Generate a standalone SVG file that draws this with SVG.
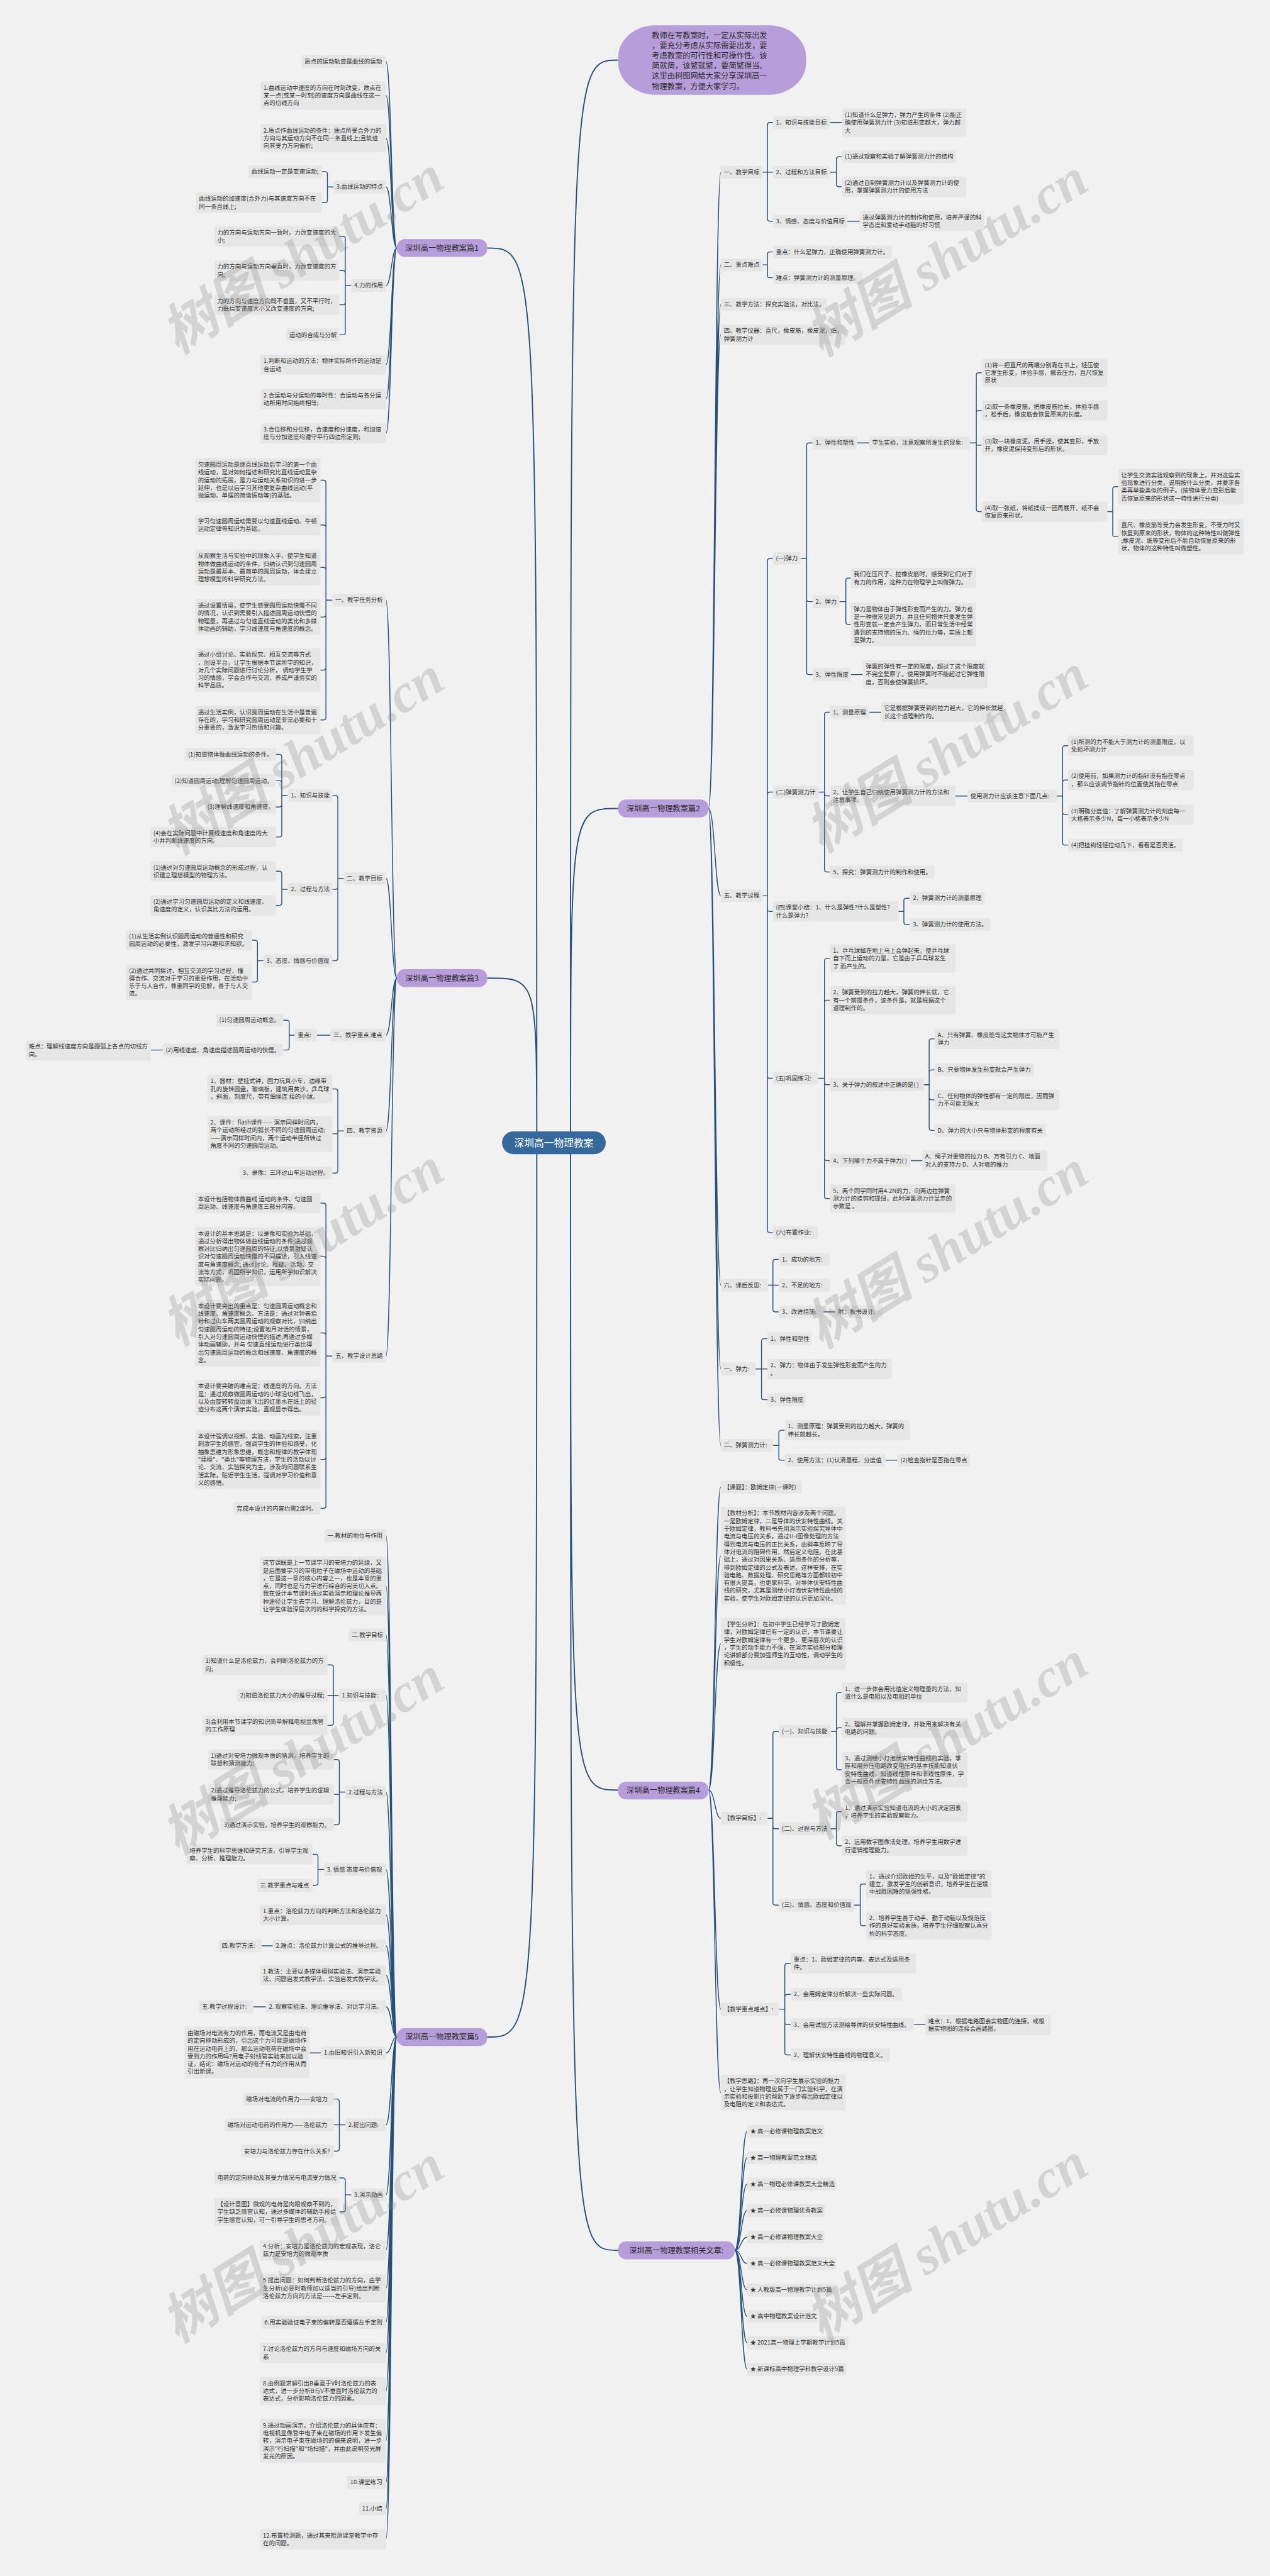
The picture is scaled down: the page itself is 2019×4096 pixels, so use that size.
<svg xmlns="http://www.w3.org/2000/svg" width="2019" height="4096" viewBox="0 0 2019 4096">
<style>
.n rect{fill:#e6e6e6}
text{font-family:"Noto Sans CJK SC","Noto Sans",sans-serif;font-size:12px;fill:#333}
.p rect{fill:#b89ddb}
.p text{font-size:15.5px;text-anchor:middle;fill:#2b2b2b}
.c path{fill:none;stroke:#24507a;stroke-width:1.8}
.c .m{stroke-width:2.4}
.wm{font-family:"Liberation Serif","Noto Sans CJK SC",serif;font-style:italic;font-weight:bold;font-size:110px;fill:#808080;fill-opacity:.27;text-anchor:middle}
</style>
<rect width="2019" height="4096" fill="#f1f1f1"/>
<g transform="scale(0.78867)">
<g id="connectors" class="c">
<path class="m" d="M1150 2304C1150 121 1150 121 1246 121M1150 2304C1150 1630 1150 1630 1246 1630M1150 2304C1150 3609 1150 3609 1246 3609M1150 2304C1150 4537 1150 4537 1246 4537M1082 2304C1082 500 1082 500 982 500M1082 2304C1082 1972 1082 1972 982 1972M1082 2304C1082 4107 1082 4107 982 4107"/>
<path d="M800 500C789 500 789 124 778 124M800 500C789 500 789 192.5 778 192.5M800 500C789 500 789 278.5 778 278.5M800 500C789 500 789 377 778 377M800 500C789 500 789 576 778 576M800 500C789 500 789 735.5 778 735.5M800 500C789 500 789 804.5 778 804.5M800 500C789 500 789 873.5 778 873.5"/>
<path d="M800 1972C789 1972 789 1210 778 1210M800 1972C789 1972 789 1771 778 1771M800 1972C789 1972 789 2087 778 2087M800 1972C789 1972 789 2280 778 2280M800 1972C789 1972 789 2734 778 2734"/>
<path d="M800 4107C789 4107 789 3096 778 3096M800 4107C789 4107 789 3197.5 778 3197.5M800 4107C789 4107 789 3296 778 3296M800 4107C789 4107 789 3418 778 3418M800 4107C789 4107 789 3613 778 3613M800 4107C789 4107 789 3769 778 3769M800 4107C789 4107 789 3860.5 778 3860.5M800 4107C789 4107 789 3923 778 3923M800 4107C789 4107 789 3982.5 778 3982.5M800 4107C789 4107 789 4046 778 4046M800 4107C789 4107 789 4139 778 4139M800 4107C789 4107 789 4284 778 4284M800 4107C789 4107 789 4425 778 4425M800 4107C789 4107 789 4536.5 778 4536.5M800 4107C789 4107 789 4613.5 778 4613.5M800 4107C789 4107 789 4682 778 4682M800 4107C789 4107 789 4743.5 778 4743.5M800 4107C789 4107 789 4820.5 778 4820.5M800 4107C789 4107 789 4921 778 4921M800 4107C789 4107 789 5005 778 5005M800 4107C789 4107 789 5058 778 5058M800 4107C789 4107 789 5119.5 778 5119.5"/>
<path d="M1428 1630C1441 1630 1441 347 1453 347M1428 1630C1441 1630 1441 534 1453 534M1428 1630C1441 1630 1441 614 1453 614M1428 1630C1441 1630 1441 674.5 1453 674.5M1428 1630C1441 1630 1441 1806 1453 1806M1428 1630C1441 1630 1441 2591 1453 2591M1428 1630C1441 1630 1441 2760 1453 2760M1428 1630C1441 1630 1441 2914 1453 2914"/>
<path d="M1428 3609C1441 3609 1441 2998 1453 2998M1428 3609C1441 3609 1441 3136.5 1453 3136.5M1428 3609C1441 3609 1441 3314 1453 3314M1428 3609C1441 3609 1441 3666 1453 3666M1428 3609C1441 3609 1441 4051 1453 4051M1428 3609C1441 3609 1441 4219 1453 4219"/>
<path d="M1481 4537C1494 4537 1494 4297 1506 4297M1481 4537C1494 4537 1494 4350.3 1506 4350.3M1481 4537C1494 4537 1494 4403.6 1506 4403.6M1481 4537C1494 4537 1494 4456.9 1506 4456.9M1481 4537C1494 4537 1494 4510.2 1506 4510.2M1481 4537C1494 4537 1494 4563.5 1506 4563.5M1481 4537C1494 4537 1494 4616.8 1506 4616.8M1481 4537C1494 4537 1494 4670.1 1506 4670.1M1481 4537C1494 4537 1494 4723.4 1506 4723.4M1481 4537C1494 4537 1494 4776.7 1506 4776.7"/>
<path d="M672 377H660V351Q660 346 655 346H649M672 377H660V403.5Q660 408.5 655 408.5H649"/>
<path d="M708 576H696V481.5Q696 476.5 691 476.5H684M708 576H696V550.5Q696 545.5 691 545.5H684M708 576H696V609.5Q696 614.5 691 614.5H684M708 576H696V670Q696 675 691 675H684"/>
<path d="M670 1210H657V973Q657 968 652 968H646M670 1210H657V1063.5Q657 1058.5 652 1058.5H646M670 1210H657V1149Q657 1144 652 1144H646M670 1210H657V1239Q657 1244 652 1244H646M670 1210H657V1346Q657 1351 652 1351H646M670 1210H657V1446.5Q657 1451.5 652 1451.5H646"/>
<path d="M693 1771H681V1609Q681 1604 676 1604H670M693 1771H681V1788Q681 1793 676 1793H670M693 1771H681V1932Q681 1937 676 1937H670"/>
<path d="M580 1604H568V1526Q568 1521 563 1521H556M580 1604H568V1579Q568 1574 563 1574H556M580 1604H568V1622Q568 1627 563 1627H556M580 1604H568V1682.5Q568 1687.5 563 1687.5H556"/>
<path d="M580 1793H568V1761.5Q568 1756.5 563 1756.5H556M580 1793H568V1820.5Q568 1825.5 563 1825.5H556"/>
<path d="M531 1937H519V1900.5Q519 1895.5 514 1895.5H508M531 1937H519V1975Q519 1980 514 1980H508"/>
<path d="M666 2087H639M594 2087H583V2062Q583 2057 578 2057H571M594 2087H583V2112Q583 2117 578 2117H571M328 2117H304"/>
<path d="M693 2280H681V2200.5Q681 2195.5 676 2195.5H670M693 2280H681V2286H670M693 2280H681V2360Q681 2365 676 2365H670"/>
<path d="M670 2734H657V2430.5Q657 2425.5 652 2425.5H646M670 2734H657V2538.5Q657 2533.5 652 2533.5H646M670 2734H657V2692.5Q657 2687.5 652 2687.5H646M670 2734H657V2813Q657 2818 652 2818H646M670 2734H657V2937.5Q657 2942.5 652 2942.5H646M670 2734H657V3036Q657 3041 652 3041H646"/>
<path d="M683 3418H672V3361.5Q672 3356.5 667 3356.5H660M683 3418H660M683 3418H672V3473.5Q672 3478.5 667 3478.5H660"/>
<path d="M696 3613H684V3552.5Q684 3547.5 679 3547.5H673M696 3613H684V3617.5H673M696 3613H684V3674Q684 3679 679 3679H673"/>
<path d="M653 3769H641V3743.5Q641 3738.5 636 3738.5H630M653 3769H641V3796Q641 3801 636 3801H630"/>
<path d="M550 3923H527M536 4046H511M647 4139H624"/>
<path d="M696 4284H684V4237Q684 4232 679 4232H673M696 4284H673M696 4284H684V4332Q684 4337 679 4337H673"/>
<path d="M708 4425H696V4396Q696 4391 691 4391H684M708 4425H696V4454.5Q696 4459.5 691 4459.5H684"/>
<path d="M1537 347H1547V252Q1547 247 1552 247H1558M1537 347H1558M1537 347H1547V441Q1547 446 1552 446H1558M1673 247H1697M1673 347H1686V321Q1686 316 1691 316H1697M1673 347H1686V371.5Q1686 376.5 1691 376.5H1697M1708 446H1733"/>
<path d="M1537 534H1547V513Q1547 508 1552 508H1558M1537 534H1547V555Q1547 560 1552 560H1558"/>
<path d="M1537 1806H1547V1131Q1547 1126 1552 1126H1558M1537 1806H1547V1602Q1547 1597 1552 1597H1558M1537 1806H1547V1832.5Q1547 1837.5 1552 1837.5H1558M1537 1806H1547V2169Q1547 2174 1552 2174H1558M1537 1806H1547V2480Q1547 2485 1552 2485H1558"/>
<path d="M1614 1126H1626V898Q1626 893 1631 893H1638M1614 1126H1626V1208Q1626 1213 1631 1213H1638M1614 1126H1626V1355Q1626 1360 1631 1360H1638M1728 893H1752"/>
<path d="M1955 893H1968V756.5Q1968 751.5 1973 751.5H1979M1955 893H1968V832.5Q1968 827.5 1973 827.5H1979M1955 893H1968V897.5H1979M1955 893H1968V1026.5Q1968 1031.5 1973 1031.5H1979"/>
<path d="M2232 1031.5H2243V986Q2243 981 2248 981H2254M2232 1031.5H2243V1077Q2243 1082 2248 1082H2254"/>
<path d="M1692 1213H1705V1170.5Q1705 1165.5 1710 1165.5H1715M1692 1213H1705V1254Q1705 1259 1710 1259H1715M1715 1360H1739"/>
<path d="M1651 1597H1662V1441Q1662 1436 1667 1436H1673M1651 1597H1662V1599.5Q1662 1604.5 1667 1604.5H1673M1651 1597H1662V1753Q1662 1758 1667 1758H1673M1752 1436H1776M1926 1605H1950"/>
<path d="M2130 1605H2142V1508.5Q2142 1503.5 2147 1503.5H2153M2130 1605H2142V1577.5Q2142 1572.5 2147 1572.5H2153M2130 1605H2142V1637.5Q2142 1642.5 2147 1642.5H2153M2130 1605H2142V1699Q2142 1704 2147 1704H2153"/>
<path d="M1811 1837.5H1822V1816Q1822 1811 1827 1811H1834M1811 1837.5H1822V1859Q1822 1864 1827 1864H1834"/>
<path d="M1649 2174H1662V1937.5Q1662 1932.5 1667 1932.5H1673M1649 2174H1662V2021.5Q1662 2016.5 1667 2016.5H1673M1649 2174H1662V2182Q1662 2187 1667 2187H1673M1649 2174H1662V2335Q1662 2340 1667 2340H1673M1649 2174H1662V2411.5Q1662 2416.5 1667 2416.5H1673"/>
<path d="M1862 2187H1873V2099.5Q1873 2094.5 1878 2094.5H1884M1862 2187H1873V2162Q1873 2157 1878 2157H1884M1862 2187H1873V2212.5Q1873 2217.5 1878 2217.5H1884M1862 2187H1873V2274Q1873 2279 1878 2279H1884M1836 2340H1859"/>
<path d="M1548 2591H1558V2544Q1558 2539 1563 2539H1570M1548 2591H1570M1548 2591H1558V2640Q1558 2645 1563 2645H1570M1660 2645H1683"/>
<path d="M1523 2760H1535V2704Q1535 2699 1540 2699H1547M1523 2760H1547M1523 2760H1535V2817Q1535 2822 1540 2822H1547"/>
<path d="M1558 2914H1570V2888.5Q1570 2883.5 1575 2883.5H1582M1558 2914H1570V2939Q1570 2944 1575 2944H1582M1785 2944H1809"/>
<path d="M1547 3666H1558V3496Q1558 3491 1563 3491H1570M1547 3666H1558V3682Q1558 3687 1563 3687H1570M1547 3666H1558V3836Q1558 3841 1563 3841H1570"/>
<path d="M1675 3491H1686V3417.5Q1686 3412.5 1691 3412.5H1697M1675 3491H1686V3488.5Q1686 3483.5 1691 3483.5H1697M1675 3491H1686V3563Q1686 3568 1691 3568H1697"/>
<path d="M1675 3687H1686V3657.5Q1686 3652.5 1691 3652.5H1697M1675 3687H1686V3716.5Q1686 3721.5 1691 3721.5H1697"/>
<path d="M1721 3841H1734V3803.5Q1734 3798.5 1739 3798.5H1746M1721 3841H1734V3877.5Q1734 3882.5 1739 3882.5H1746"/>
<path d="M1570 4051H1582V3963.5Q1582 3958.5 1587 3958.5H1594M1570 4051H1582V4026Q1582 4021 1587 4021H1594M1570 4051H1582V4077Q1582 4082 1587 4082H1594M1570 4051H1582V4138Q1582 4143 1587 4143H1594M1842 4082H1865"/>
</g>

<g id="center"><rect x="1012" y="2281" width="209" height="46" rx="23" fill="#36699b"/><text x="1116.5" y="2311" style="font-size:20px;fill:#fff;text-anchor:middle">深圳高一物理教案</text></g>
<g id="intro"><rect x="1246" y="51" width="379" height="140" rx="75" ry="65" fill="#b89ddb"/><text x="1314" y="77" style="font-size:15.5px;fill:#2b2b2b">教师在写教案时，一定从实际出发<tspan x="1314" dy="20.5">，要充分考虑从实际需要出发，要</tspan><tspan x="1314" dy="20.5">考虑教案的可行性和可操作性。该</tspan><tspan x="1314" dy="20.5">简就简，该繁就繁，要简繁得当。</tspan><tspan x="1314" dy="20.5">这里由树图网给大家分享深圳高一</tspan><tspan x="1314" dy="20.5">物理教案，方便大家学习。</tspan></text></g>

<g id="pian1" class="p"><rect x="800" y="482" width="182" height="36" rx="16"/><text x="891" y="505.5">深圳高一物理教案篇1</text></g>
<g id="pian2" class="p"><rect x="1246" y="1612" width="182" height="36" rx="16"/><text x="1337" y="1635.5">深圳高一物理教案篇2</text></g>
<g id="pian3" class="p"><rect x="800" y="1954" width="182" height="36" rx="16"/><text x="891" y="1977.5">深圳高一物理教案篇3</text></g>
<g id="pian4" class="p"><rect x="1246" y="3592" width="182" height="36" rx="16"/><text x="1337" y="3615.5">深圳高一物理教案篇4</text></g>
<g id="pian5" class="p"><rect x="800" y="4089" width="182" height="36" rx="16"/><text x="891" y="4112.5">深圳高一物理教案篇5</text></g>
<g id="related" class="p"><rect x="1246" y="4519" width="235" height="36" rx="16"/><text x="1363.5" y="4542.5">深圳高一物理教案相关文章:</text></g>

<g id="a1" class="n"><rect x="608" y="111" width="170" height="26" rx="4"/><text x="614" y="128">质点的运动轨迹是曲线的运动</text></g>
<g id="a2" class="n"><rect x="525" y="164" width="253" height="57" rx="4"/><text x="531" y="181">1.曲线运动中速度的方向在时刻改变，质点在<tspan x="531" dy="15.6">某一点(或某一时刻)的速度方向是曲线在这一</tspan><tspan x="531" dy="15.6">点的切线方向</tspan></text></g>
<g id="a3" class="n"><rect x="525" y="250" width="253" height="57" rx="4"/><text x="531" y="267">2.质点作曲线运动的条件：质点所受合外力的<tspan x="531" dy="15.6">方向与其运动方向不在同一条直线上;且轨迹</tspan><tspan x="531" dy="15.6">向其受力方向偏折;</tspan></text></g>
<g id="a4" class="n"><rect x="672" y="364" width="106" height="26" rx="4"/><text x="678" y="381">3.曲线运动的特点</text></g>
<g id="a4a" class="n"><rect x="501" y="333" width="148" height="26" rx="4"/><text x="507" y="350">曲线运动一定是变速运动;</text></g>
<g id="a4b" class="n"><rect x="395" y="388" width="254" height="41" rx="4"/><text x="401" y="405">曲线运动的加速度(合外力)与其速度方向不在<tspan x="401" dy="15.6">同一条直线上;</tspan></text></g>
<g id="a5" class="n"><rect x="708" y="563" width="70" height="26" rx="4"/><text x="714" y="580">4.力的作用</text></g>
<g id="a5a" class="n"><rect x="432" y="456" width="252" height="41" rx="4"/><text x="438" y="473">力的方向与运动方向一致时，力改变速度的大<tspan x="438" dy="15.6">小;</tspan></text></g>
<g id="a5b" class="n"><rect x="432" y="525" width="252" height="41" rx="4"/><text x="438" y="542">力的方向与运动方向垂直时，力改变速度的方<tspan x="438" dy="15.6">向;</tspan></text></g>
<g id="a5c" class="n"><rect x="432" y="594" width="252" height="41" rx="4"/><text x="438" y="611">力的方向与速度方向既不垂直，又不平行时，<tspan x="438" dy="15.6">力既搞变速度大小又改变速度的方向;</tspan></text></g>
<g id="a5d" class="n"><rect x="577" y="662" width="107" height="26" rx="4"/><text x="583" y="679">运动的合成与分解</text></g>
<g id="a6" class="n"><rect x="525" y="715" width="253" height="41" rx="4"/><text x="531" y="732">1.判断和运动的方法：物体实际所作的运动是<tspan x="531" dy="15.6">合运动</tspan></text></g>
<g id="a7" class="n"><rect x="525" y="784" width="253" height="41" rx="4"/><text x="531" y="801">2.合运动与分运动的等时性：合运动与各分运<tspan x="531" dy="15.6">动所用时间始终相等;</tspan></text></g>
<g id="a8" class="n"><rect x="525" y="853" width="253" height="41" rx="4"/><text x="531" y="870">3.合位移和分位移，合速度和分速度，和加速<tspan x="531" dy="15.6">度与分加速度均遵守平行四边形定则;</tspan></text></g>

<g id="b1" class="n"><rect x="670" y="1197" width="108" height="26" rx="4"/><text x="676" y="1214">一、教学任务分析</text></g>
<g id="b1a" class="n"><rect x="393" y="924" width="253" height="88" rx="4"/><text x="399" y="941">匀速圆周运动是继直线运动后学习的第一个曲<tspan x="399" dy="15.6">线运动，是对如何描述和研究比直线运动复杂</tspan><tspan x="399" dy="15.6">的运动的拓展，是力与运动关系知识的进一步</tspan><tspan x="399" dy="15.6">延伸，也是以后学习其他更复杂曲线运动(平</tspan><tspan x="399" dy="15.6">抛运动、单摆的简谐振动等)的基础。</tspan></text></g>
<g id="b1b" class="n"><rect x="393" y="1038" width="253" height="41" rx="4"/><text x="399" y="1055">学习匀速圆周运动需要以匀速直线运动、牛顿<tspan x="399" dy="15.6">运动定律等知识为基础。</tspan></text></g>
<g id="b1c" class="n"><rect x="393" y="1108" width="253" height="72" rx="4"/><text x="399" y="1125">从观察生活与实验中的现象入手，使学生知道<tspan x="399" dy="15.6">物体做曲线运动的条件，归纳认识到匀速圆周</tspan><tspan x="399" dy="15.6">运动是最基本、最简单的圆周运动，体会建立</tspan><tspan x="399" dy="15.6">理想模型的科学研究方法。</tspan></text></g>
<g id="b1d" class="n"><rect x="393" y="1208" width="253" height="72" rx="4"/><text x="399" y="1225">通过设置情境，使学生感受圆周运动快慢不同<tspan x="399" dy="15.6">的情况，认识到需要引入描述圆周运动快慢的</tspan><tspan x="399" dy="15.6">物理量，再通过与匀速直线运动的类比和多媒</tspan><tspan x="399" dy="15.6">体动画的辅助，学习线速度与角速度的概念。</tspan></text></g>
<g id="b1e" class="n"><rect x="393" y="1307" width="253" height="88" rx="4"/><text x="399" y="1324">通过小组讨论、实验探究、相互交流等方式<tspan x="399" dy="15.6">，创设平台，让学生根据本节课所学的知识，</tspan><tspan x="399" dy="15.6">对几个实际问题进行讨论分析， 调动学生学</tspan><tspan x="399" dy="15.6">习的情感，学会合作与交流，养成严谨务实的</tspan><tspan x="399" dy="15.6">科学品质。</tspan></text></g>
<g id="b1f" class="n"><rect x="393" y="1423" width="253" height="57" rx="4"/><text x="399" y="1440">通过生活实例，认识圆周运动在生活中是普遍<tspan x="399" dy="15.6">存在的，学习和研究圆周运动是非常必要和十</tspan><tspan x="399" dy="15.6">分重要的，激发学习热情和兴趣。</tspan></text></g>
<g id="b2" class="n"><rect x="693" y="1758" width="85" height="26" rx="4"/><text x="699" y="1775">二、教学目标</text></g>
<g id="b2a" class="n"><rect x="580" y="1591" width="90" height="26" rx="4"/><text x="586" y="1608">1、知识与技能</text></g>
<g id="b2a1" class="n"><rect x="373" y="1508" width="183" height="26" rx="4"/><text x="379" y="1525">(1)知道物体做曲线运动的条件。</text></g>
<g id="b2a2" class="n"><rect x="346" y="1561" width="210" height="26" rx="4"/><text x="352" y="1578">(2)知道圆周运动;理解匀速圆周运动。</text></g>
<g id="b2a3" class="n"><rect x="412" y="1614" width="144" height="26" rx="4"/><text x="418" y="1631">(3)理解线速度和角速度。</text></g>
<g id="b2a4" class="n"><rect x="303" y="1667" width="253" height="41" rx="4"/><text x="309" y="1684">(4)会在实际问题中计算线速度和角速度的大<tspan x="309" dy="15.6">小并判断线速度的方向。</tspan></text></g>
<g id="b2b" class="n"><rect x="580" y="1780" width="90" height="26" rx="4"/><text x="586" y="1797">2、过程与方法</text></g>
<g id="b2b1" class="n"><rect x="303" y="1736" width="253" height="41" rx="4"/><text x="309" y="1753">(1)通过对匀速圆周运动概念的形成过程，认<tspan x="309" dy="15.6">识建立理想模型的物理方法。</tspan></text></g>
<g id="b2b2" class="n"><rect x="303" y="1805" width="253" height="41" rx="4"/><text x="309" y="1822">(2)通过学习匀速圆周运动的定义和线速度、<tspan x="309" dy="15.6">角速度的定义，认识类比方法的运用。</tspan></text></g>
<g id="b2c" class="n"><rect x="531" y="1924" width="139" height="26" rx="4"/><text x="537" y="1941">3、态度、情感与价值观</text></g>
<g id="b2c1" class="n"><rect x="254" y="1875" width="254" height="41" rx="4"/><text x="260" y="1892">(1)从生活实例认识圆周运动的普遍性和研究<tspan x="260" dy="15.6">圆周运动的必要性，激发学习兴趣和求知欲。</tspan></text></g>
<g id="b2c2" class="n"><rect x="254" y="1944" width="254" height="72" rx="4"/><text x="260" y="1961">(2)通过共同探讨、相互交流的学习过程，懂<tspan x="260" dy="15.6">得合作、交流对于学习的重要作用，在活动中</tspan><tspan x="260" dy="15.6">乐于与人合作，尊重同学的见解，善于与人交</tspan><tspan x="260" dy="15.6">流。</tspan></text></g>
<g id="b3" class="n"><rect x="666" y="2074" width="112" height="26" rx="4"/><text x="672" y="2091">三、教学重点 难点</text></g>
<g id="b3z" class="n"><rect x="594" y="2074" width="45" height="26" rx="4"/><text x="600" y="2091">重点:</text></g>
<g id="b3a" class="n"><rect x="436" y="2044" width="135" height="26" rx="4"/><text x="442" y="2061">(1)匀速圆周运动概念。</text></g>
<g id="b3b" class="n"><rect x="328" y="2104" width="243" height="26" rx="4"/><text x="334" y="2121">(2)用线速度、角速度描述圆周运动的快慢。</text></g>
<g id="b3c" class="n"><rect x="52" y="2097" width="252" height="41" rx="4"/><text x="58" y="2114">难点：理解线速度方向是圆弧上各点的切线方<tspan x="58" dy="15.6">向。</tspan></text></g>
<g id="b4" class="n"><rect x="693" y="2267" width="85" height="26" rx="4"/><text x="699" y="2284">四、教学资源</text></g>
<g id="b4a" class="n"><rect x="418" y="2167" width="252" height="57" rx="4"/><text x="424" y="2184">1、器材：壁挂式钟，回力玩具小车，边缘带<tspan x="424" dy="15.6">孔的旋转圆盘，玻璃板，建筑用黄沙，乒乓球</tspan><tspan x="424" dy="15.6">，斜面，刻度尺，带有细绳连 接的小球。</tspan></text></g>
<g id="b4b" class="n"><rect x="418" y="2250" width="252" height="72" rx="4"/><text x="424" y="2267">2、课件：flash课件—— 演示同样时间内，<tspan x="424" dy="15.6">两个运动所经过的弧长不同的匀速圆周运动;</tspan><tspan x="424" dy="15.6">——演示同样时间内，两个运动半径所转过</tspan><tspan x="424" dy="15.6">角度不同的匀速圆周运动。</tspan></text></g>
<g id="b4c" class="n"><rect x="483" y="2352" width="187" height="26" rx="4"/><text x="489" y="2369">3、录像：三环过山车运动过程。</text></g>
<g id="b5" class="n"><rect x="670" y="2721" width="108" height="26" rx="4"/><text x="676" y="2738">五、教学设计思路</text></g>
<g id="b5a" class="n"><rect x="393" y="2405" width="253" height="41" rx="4"/><text x="399" y="2422">本设计包括物体做曲线 运动的条件、匀速圆<tspan x="399" dy="15.6">周运动、线速度与角速度三部分内容。</tspan></text></g>
<g id="b5b" class="n"><rect x="393" y="2474" width="253" height="119" rx="4"/><text x="399" y="2491">本设计的基本思路是：以录像和实验为基础，<tspan x="399" dy="15.6">通过分析得出物体做曲线运动的条件;通过观</tspan><tspan x="399" dy="15.6">察对比归纳出匀速圆周的特征;以情景激疑认</tspan><tspan x="399" dy="15.6">识对匀速圆周运动快慢的不同描述，引入线速</tspan><tspan x="399" dy="15.6">度与角速度概念; 通过讨论、释疑、活动、交</tspan><tspan x="399" dy="15.6">流等方式，巩固所学知识，运用所学知识解决</tspan><tspan x="399" dy="15.6">实际问题。</tspan></text></g>
<g id="b5c" class="n"><rect x="393" y="2620" width="253" height="135" rx="4"/><text x="399" y="2637">本设计要突出的重点是：匀速圆周运动概念和<tspan x="399" dy="15.6">线速度、角速度概念。方法是：通过对钟表指</tspan><tspan x="399" dy="15.6">针和过山车两类圆周运动的观察对比，归纳出</tspan><tspan x="399" dy="15.6">匀速圆周运动的特征;设置地月对话的情景，</tspan><tspan x="399" dy="15.6">引入对匀速圆周运动快慢的描述;再通过多媒</tspan><tspan x="399" dy="15.6">体动画辅助，并与 匀速直线运动进行类比得</tspan><tspan x="399" dy="15.6">出匀速圆周运动的概念和线速度、角速度的概</tspan><tspan x="399" dy="15.6">念。</tspan></text></g>
<g id="b5d" class="n"><rect x="393" y="2782" width="253" height="72" rx="4"/><text x="399" y="2799">本设计要突破的难点是：线速度的方向。方法<tspan x="399" dy="15.6">是：通过观察做圆周运动的小球沿切线飞出，</tspan><tspan x="399" dy="15.6">以及由旋转转盘边缘飞出的红墨水在纸上的径</tspan><tspan x="399" dy="15.6">迹分布这两个演示实验，直观显示得出。</tspan></text></g>
<g id="b5e" class="n"><rect x="393" y="2883" width="253" height="119" rx="4"/><text x="399" y="2900">本设计强调以视频、实验、动画为线索，注重<tspan x="399" dy="15.6">刺激学生的感官，强调学生的体验和感受，化</tspan><tspan x="399" dy="15.6">抽象思维为形象思维，概念和规律的教学体现</tspan><tspan x="399" dy="15.6">&quot;建模&quot;、&quot;类比&quot;等物理方法，学生的活动以讨</tspan><tspan x="399" dy="15.6">论、交流、实验探究为主，涉及的问题联系生</tspan><tspan x="399" dy="15.6">活实际，贴近学生生活，强调对学习价值和意</tspan><tspan x="399" dy="15.6">义的感悟。</tspan></text></g>
<g id="b5f" class="n"><rect x="471" y="3028" width="175" height="26" rx="4"/><text x="477" y="3045">完成本设计的内容约需2课时。</text></g>

<g id="c1" class="n"><rect x="654" y="3083" width="124" height="26" rx="4"/><text x="660" y="3100">一.教材的地位与作用</text></g>
<g id="c2" class="n"><rect x="524" y="3138" width="254" height="119" rx="4"/><text x="530" y="3155">这节课既是上一节课学习的安培力的延续，又<tspan x="530" dy="15.6">是后面要学习的带电粒子在磁场中运动的基础</tspan><tspan x="530" dy="15.6">，它是这一章的核心内容之一，也是本章的重</tspan><tspan x="530" dy="15.6">点，同时也是与力学进行综合的完美切入点。</tspan><tspan x="530" dy="15.6">我在设计本节课时通过实验演示和理论推导两</tspan><tspan x="530" dy="15.6">种途径让学生去学习、理解洛伦兹力，目的是</tspan><tspan x="530" dy="15.6">让学生体验深层次的的科学探究的方法。</tspan></text></g>
<g id="c3" class="n"><rect x="703" y="3283" width="75" height="26" rx="4"/><text x="709" y="3300">二.教学目标</text></g>
<g id="c4" class="n"><rect x="683" y="3405" width="95" height="26" rx="4"/><text x="689" y="3422">1.知识与技能:</text></g>
<g id="c4a" class="n"><rect x="408" y="3336" width="252" height="41" rx="4"/><text x="414" y="3353">1)知道什么是洛伦兹力，会判断洛伦兹力的方<tspan x="414" dy="15.6">向;</tspan></text></g>
<g id="c4b" class="n"><rect x="478" y="3405" width="182" height="26" rx="4"/><text x="484" y="3422">2)知道洛伦兹力大小的推导过程;</text></g>
<g id="c4c" class="n"><rect x="408" y="3458" width="252" height="41" rx="4"/><text x="414" y="3475">3)会利用本节课学的知识简单解释电视显像管<tspan x="414" dy="15.6">的工作原理</tspan></text></g>
<g id="c5" class="n"><rect x="696" y="3600" width="82" height="26" rx="4"/><text x="702" y="3617">2.过程与方法</text></g>
<g id="c5a" class="n"><rect x="419" y="3527" width="254" height="41" rx="4"/><text x="425" y="3544">1)通过对安培力微观本质的猜测，培养学生的<tspan x="425" dy="15.6">联想和猜测能力;</tspan></text></g>
<g id="c5b" class="n"><rect x="419" y="3597" width="254" height="41" rx="4"/><text x="425" y="3614">2)通过推导洛伦兹力的公式，培养学生的逻辑<tspan x="425" dy="15.6">推理能力;</tspan></text></g>
<g id="c5c" class="n"><rect x="445" y="3666" width="228" height="26" rx="4"/><text x="451" y="3683">3)通过演示实验，培养学生的观察能力。</text></g>
<g id="c6" class="n"><rect x="653" y="3756" width="125" height="26" rx="4"/><text x="659" y="3773">3. 情感 态度与价值观</text></g>
<g id="c6a" class="n"><rect x="376" y="3718" width="254" height="41" rx="4"/><text x="382" y="3735">培养学生的科学思维和研究方法，引导学生观<tspan x="382" dy="15.6">察、分析、推理能力。</tspan></text></g>
<g id="c6b" class="n"><rect x="518" y="3788" width="112" height="26" rx="4"/><text x="524" y="3805">三.教学重点与难点</text></g>
<g id="c7" class="n"><rect x="524" y="3840" width="254" height="41" rx="4"/><text x="530" y="3857">1.重点：洛伦兹力方向的判断方法和洛伦兹力<tspan x="530" dy="15.6">大小计算。</tspan></text></g>
<g id="c8" class="n"><rect x="550" y="3910" width="228" height="26" rx="4"/><text x="556" y="3927">2.难点：洛伦兹力计算公式的推导过程。</text></g>
<g id="c8a" class="n"><rect x="441" y="3910" width="86" height="26" rx="4"/><text x="447" y="3927">四.教学方法:</text></g>
<g id="c9" class="n"><rect x="524" y="3962" width="254" height="41" rx="4"/><text x="530" y="3979">1.教法：主要以多媒体模拟实验法、演示实验<tspan x="530" dy="15.6">法、问题启发式教学法、实验启发式教学法。</tspan></text></g>
<g id="c10" class="n"><rect x="536" y="4033" width="242" height="26" rx="4"/><text x="542" y="4050">2. 观察实验法、理论推导法、对比学习法。</text></g>
<g id="c10a" class="n"><rect x="401" y="4033" width="110" height="26" rx="4"/><text x="407" y="4050">五.教学过程设计:</text></g>
<g id="c11" class="n"><rect x="647" y="4126" width="131" height="26" rx="4"/><text x="653" y="4143">1.由旧知识引入新知识</text></g>
<g id="c11a" class="n"><rect x="372" y="4086" width="252" height="104" rx="4"/><text x="378" y="4103">由磁场对电流有力的作用，而电流又是由电荷<tspan x="378" dy="15.6">的定向移动形成的，引出这个力可能是磁场作</tspan><tspan x="378" dy="15.6">用在运动电荷上的，那么运动电荷在磁场中会</tspan><tspan x="378" dy="15.6">受到力的作用吗?用电子射线管实验来加以验</tspan><tspan x="378" dy="15.6">证，结论：磁场对运动的电子有力的作用从而</tspan><tspan x="378" dy="15.6">引出新课。</tspan></text></g>
<g id="c12" class="n"><rect x="696" y="4271" width="82" height="26" rx="4"/><text x="702" y="4288">2.提出问题:</text></g>
<g id="c12a" class="n"><rect x="490" y="4219" width="183" height="26" rx="4"/><text x="496" y="4236">磁场对电流的作用力-----安培力</text></g>
<g id="c12b" class="n"><rect x="453" y="4271" width="220" height="26" rx="4"/><text x="459" y="4288">磁场对运动电荷的作用力-----洛伦兹力</text></g>
<g id="c12c" class="n"><rect x="486" y="4324" width="187" height="26" rx="4"/><text x="492" y="4341">安培力与洛伦兹力存在什么关系?</text></g>
<g id="c13" class="n"><rect x="708" y="4412" width="70" height="26" rx="4"/><text x="714" y="4429">3.演示动画</text></g>
<g id="c13a" class="n"><rect x="432" y="4378" width="252" height="26" rx="4"/><text x="438" y="4395">电荷的定向移动及其受力情况与电流受力情况</text></g>
<g id="c13b" class="n"><rect x="432" y="4431" width="252" height="57" rx="4"/><text x="438" y="4448">【设计意图】微观的电荷是肉眼观察不到的，<tspan x="438" dy="15.6">学生缺乏感官认知，通过多媒体的辅助手段给</tspan><tspan x="438" dy="15.6">学生感官认知，可一引导学生的思考方向。</tspan></text></g>
<g id="c14" class="n"><rect x="524" y="4516" width="254" height="41" rx="4"/><text x="530" y="4533">4.分析：安培力是洛伦兹力的宏观表现，洛仑<tspan x="530" dy="15.6">兹力是安培力的微观本质</tspan></text></g>
<g id="c15" class="n"><rect x="524" y="4585" width="254" height="57" rx="4"/><text x="530" y="4602">5.提出问题：如何判断洛伦兹力的方向，由学<tspan x="530" dy="15.6">生分析(必要时教师加以适当的引导)给出判断</tspan><tspan x="530" dy="15.6">洛伦兹力方向的方法是------左手定则。</tspan></text></g>
<g id="c16" class="n"><rect x="527" y="4669" width="251" height="26" rx="4"/><text x="533" y="4686">6.用实验验证电子束的偏转是否遵循左手定则</text></g>
<g id="c17" class="n"><rect x="524" y="4723" width="254" height="41" rx="4"/><text x="530" y="4740">7.讨论洛伦兹力的方向与速度和磁场方向的关<tspan x="530" dy="15.6">系</tspan></text></g>
<g id="c18" class="n"><rect x="524" y="4792" width="254" height="57" rx="4"/><text x="530" y="4809">8.由例题求解引出B垂直于V时洛伦兹力的表<tspan x="530" dy="15.6">达式，进一步分析B与V不垂直时洛伦兹力的</tspan><tspan x="530" dy="15.6">表达式，分析影响洛伦兹力的因素。</tspan></text></g>
<g id="c19" class="n"><rect x="524" y="4877" width="254" height="88" rx="4"/><text x="530" y="4894">9.通过动画演示，介绍洛伦兹力的具体应有：<tspan x="530" dy="15.6">电视机显像管中电子束在磁场的作用下发生偏</tspan><tspan x="530" dy="15.6">转，演示电子束在磁场的的偏来说明，进一步</tspan><tspan x="530" dy="15.6">演示&quot;行扫描&quot;和&quot;场扫描&quot;，并由此说明荧光屏</tspan><tspan x="530" dy="15.6">发光的原因。</tspan></text></g>
<g id="c20" class="n"><rect x="700" y="4992" width="78" height="26" rx="4"/><text x="706" y="5009">10.课堂练习</text></g>
<g id="c21" class="n"><rect x="724" y="5045" width="54" height="26" rx="4"/><text x="730" y="5062">11.小结</text></g>
<g id="c22" class="n"><rect x="524" y="5099" width="254" height="41" rx="4"/><text x="530" y="5116">12.布置检测题，通过其来检测课堂教学中存<tspan x="530" dy="15.6">在的问题。</tspan></text></g>

<g id="d1" class="n"><rect x="1453" y="334" width="84" height="26" rx="4"/><text x="1459" y="351">一、教学目标</text></g>
<g id="d1a" class="n"><rect x="1558" y="234" width="115" height="26" rx="4"/><text x="1564" y="251">1、知识与技能目标</text></g>
<g id="d1a1" class="n"><rect x="1697" y="219" width="251" height="57" rx="4"/><text x="1703" y="236">(1)知道什么是弹力，弹力产生的条件 (2)能正<tspan x="1703" dy="15.6">确使用弹簧测力计 (3)知道形变越大，弹力越</tspan><tspan x="1703" dy="15.6">大</tspan></text></g>
<g id="d1b" class="n"><rect x="1558" y="334" width="115" height="26" rx="4"/><text x="1564" y="351">2、过程和方法目标</text></g>
<g id="d1b1" class="n"><rect x="1697" y="303" width="231" height="26" rx="4"/><text x="1703" y="320">(1)通过观察和实验了解弹簧测力计的结构</text></g>
<g id="d1b2" class="n"><rect x="1697" y="356" width="251" height="41" rx="4"/><text x="1703" y="373">(2)通过自制弹簧测力计以及弹簧测力计的使<tspan x="1703" dy="15.6">用，掌握弹簧测力计的使用方法</tspan></text></g>
<g id="d1c" class="n"><rect x="1558" y="433" width="150" height="26" rx="4"/><text x="1564" y="450">3、情感、态度与价值目标</text></g>
<g id="d1c1" class="n"><rect x="1733" y="425" width="251" height="41" rx="4"/><text x="1739" y="442">通过弹簧测力计的制作和使用，培养严谨的科<tspan x="1739" dy="15.6">学态度和爱动手动脑的好习惯</tspan></text></g>
<g id="d2" class="n"><rect x="1453" y="521" width="84" height="26" rx="4"/><text x="1459" y="538">二、重点难点</text></g>
<g id="d2a" class="n"><rect x="1558" y="495" width="240" height="26" rx="4"/><text x="1564" y="512">重点：什么是弹力，正确使用弹簧测力计。</text></g>
<g id="d2b" class="n"><rect x="1558" y="547" width="181" height="26" rx="4"/><text x="1564" y="564">难点：弹簧测力计的测量原理。</text></g>
<g id="d3" class="n"><rect x="1453" y="601" width="214" height="26" rx="4"/><text x="1459" y="618">三、教学方法：探究实验法，对比法。</text></g>
<g id="d4" class="n"><rect x="1453" y="654" width="251" height="41" rx="4"/><text x="1459" y="671">四、教学仪器：直尺，橡皮筋，橡皮泥，纸，<tspan x="1459" dy="15.6">弹簧测力计</tspan></text></g>
<g id="d5" class="n"><rect x="1453" y="1793" width="84" height="26" rx="4"/><text x="1459" y="1810">五、教学过程</text></g>
<g id="e1" class="n"><rect x="1558" y="1113" width="56" height="26" rx="4"/><text x="1564" y="1130">(一)弹力</text></g>
<g id="e1a" class="n"><rect x="1638" y="880" width="90" height="26" rx="4"/><text x="1644" y="897">1、弹性和塑性</text></g>
<g id="e1a0" class="n"><rect x="1752" y="880" width="203" height="26" rx="4"/><text x="1758" y="897">学生实验，注意观察所发生的现象:</text></g>
<g id="e1a1" class="n"><rect x="1979" y="723" width="253" height="57" rx="4"/><text x="1985" y="740">(1)将一把直尺的两端分别靠在书上，轻压使<tspan x="1985" dy="15.6">它发生形变，体验手感，撤去压力，直尺恢复</tspan><tspan x="1985" dy="15.6">原状</tspan></text></g>
<g id="e1a2" class="n"><rect x="1979" y="807" width="253" height="41" rx="4"/><text x="1985" y="824">(2)取一条橡皮筋，把橡皮筋拉长，体验手感<tspan x="1985" dy="15.6">，松手后，橡皮筋会恢复原来的长度。</tspan></text></g>
<g id="e1a3" class="n"><rect x="1979" y="877" width="253" height="41" rx="4"/><text x="1985" y="894">(3)取一块橡皮泥，用手捏，使其变形，手放<tspan x="1985" dy="15.6">开，橡皮泥保持变形后的形状。</tspan></text></g>
<g id="e1a4" class="n"><rect x="1979" y="1011" width="253" height="41" rx="4"/><text x="1985" y="1028">(4)取一张纸，将纸揉成一团再展开，纸不会<tspan x="1985" dy="15.6">恢复原来形状。</tspan></text></g>
<g id="e1a4a" class="n"><rect x="2254" y="945" width="253" height="72" rx="4"/><text x="2260" y="962">让学生交流实验观察到的现象上，并对这些实<tspan x="2260" dy="15.6">验现象进行分类，说明按什么分类，并要求各</tspan><tspan x="2260" dy="15.6">类再举些类似的例子。(按物体受力变形后能</tspan><tspan x="2260" dy="15.6">否恢复原来的形状这一特性进行分类)</tspan></text></g>
<g id="e1a4b" class="n"><rect x="2254" y="1046" width="253" height="72" rx="4"/><text x="2260" y="1063">直尺、橡皮筋等受力会发生形变，不受力时又<tspan x="2260" dy="15.6">恢复到原来的形状，物体的这种特性叫做弹性</tspan><tspan x="2260" dy="15.6">;橡皮泥、纸等变形后不能自动恢复原来的形</tspan><tspan x="2260" dy="15.6">状，物体的这种特性叫做塑性。</tspan></text></g>
<g id="e1b" class="n"><rect x="1638" y="1200" width="54" height="26" rx="4"/><text x="1644" y="1217">2、弹力</text></g>
<g id="e1b1" class="n"><rect x="1715" y="1145" width="253" height="41" rx="4"/><text x="1721" y="1162">我们在压尺子、拉橡皮筋时，感受到它们对于<tspan x="1721" dy="15.6">有力的作用，这种力在物理学上叫做弹力。</tspan></text></g>
<g id="e1b2" class="n"><rect x="1715" y="1215" width="253" height="88" rx="4"/><text x="1721" y="1232">弹力是物体由于弹性形变而产生的力。弹力也<tspan x="1721" dy="15.6">是一种很常见的力，并且任何物体只要发生弹</tspan><tspan x="1721" dy="15.6">性形变就一定会产生弹力。而日常生活中经常</tspan><tspan x="1721" dy="15.6">遇到的支持物的压力、绳的拉力等，实质上都</tspan><tspan x="1721" dy="15.6">是弹力。</tspan></text></g>
<g id="e1c" class="n"><rect x="1638" y="1347" width="77" height="26" rx="4"/><text x="1644" y="1364">3、弹性限度</text></g>
<g id="e1c1" class="n"><rect x="1739" y="1331" width="252" height="57" rx="4"/><text x="1745" y="1348">弹簧的弹性有一定的限度，超过了这个限度就<tspan x="1745" dy="15.6">不完全复原了。使用弹簧时不能超过它弹性限</tspan><tspan x="1745" dy="15.6">度，否则会使弹簧损坏。</tspan></text></g>
<g id="e2" class="n"><rect x="1558" y="1584" width="93" height="26" rx="4"/><text x="1564" y="1601">(二)弹簧测力计</text></g>
<g id="e2a" class="n"><rect x="1673" y="1423" width="79" height="26" rx="4"/><text x="1679" y="1440">1、测量原理</text></g>
<g id="e2a1" class="n"><rect x="1776" y="1415" width="252" height="41" rx="4"/><text x="1782" y="1432">它是根据弹簧受到的拉力越大，它的伸长就越<tspan x="1782" dy="15.6">长这个道理制作的。</tspan></text></g>
<g id="e2b" class="n"><rect x="1673" y="1584" width="253" height="41" rx="4"/><text x="1679" y="1601">2、让学生自己归纳使用弹簧测力计的方法和<tspan x="1679" dy="15.6">注意事项。</tspan></text></g>
<g id="e2b0" class="n"><rect x="1950" y="1592" width="180" height="26" rx="4"/><text x="1956" y="1609">使用测力计应该注意下面几点:</text></g>
<g id="e2b1" class="n"><rect x="2153" y="1483" width="253" height="41" rx="4"/><text x="2159" y="1500">(1)所测的力不能大于测力计的测量限度，以<tspan x="2159" dy="15.6">免损坏测力计</tspan></text></g>
<g id="e2b2" class="n"><rect x="2153" y="1552" width="253" height="41" rx="4"/><text x="2159" y="1569">(2)使用前，如果测力计的指针没有指在零点<tspan x="2159" dy="15.6">，那么应该调节指针的位置使其指在零点</tspan></text></g>
<g id="e2b3" class="n"><rect x="2153" y="1622" width="253" height="41" rx="4"/><text x="2159" y="1639">(3)明确分度值：了解弹簧测力计的刻度每一<tspan x="2159" dy="15.6">大格表示多少N，每一小格表示多少N</tspan></text></g>
<g id="e2b4" class="n"><rect x="2153" y="1691" width="231" height="26" rx="4"/><text x="2159" y="1708">(4)把挂钩轻轻拉动几下，看看是否灵活。</text></g>
<g id="e2c" class="n"><rect x="1673" y="1745" width="211" height="26" rx="4"/><text x="1679" y="1762">5、探究：弹簧测力计的制作和使用。</text></g>
<g id="e3" class="n"><rect x="1558" y="1817" width="253" height="41" rx="4"/><text x="1564" y="1834">(四)课堂小结：1、什么是弹性?什么是塑性?<tspan x="1564" dy="15.6">什么是弹力?</tspan></text></g>
<g id="e3a" class="n"><rect x="1834" y="1798" width="151" height="26" rx="4"/><text x="1840" y="1815">2、弹簧测力计的测量原理</text></g>
<g id="e3b" class="n"><rect x="1834" y="1851" width="163" height="26" rx="4"/><text x="1840" y="1868">3、弹簧测力计的使用方法。</text></g>
<g id="e4" class="n"><rect x="1558" y="2161" width="91" height="26" rx="4"/><text x="1564" y="2178">(五)巩固练习:</text></g>
<g id="e4a" class="n"><rect x="1673" y="1904" width="253" height="57" rx="4"/><text x="1679" y="1921">1、乒乓球掉在地上马上会弹起来，使乒乓球<tspan x="1679" dy="15.6">自下而上运动的力是，它是由于乒乓球发生</tspan><tspan x="1679" dy="15.6">了 而产生的。</tspan></text></g>
<g id="e4b" class="n"><rect x="1673" y="1988" width="253" height="57" rx="4"/><text x="1679" y="2005">2、弹簧受到的拉力越大，弹簧的伸长就，它<tspan x="1679" dy="15.6">有一个前提条件，该条件是，就是根据这个</tspan><tspan x="1679" dy="15.6">道理制作的。</tspan></text></g>
<g id="e4c" class="n"><rect x="1673" y="2174" width="189" height="26" rx="4"/><text x="1679" y="2191">3、关于弹力的叙述中正确的是( )</text></g>
<g id="e4c1" class="n"><rect x="1884" y="2074" width="251" height="41" rx="4"/><text x="1890" y="2091">A、只有弹簧、橡皮筋等这类物体才可能产生<tspan x="1890" dy="15.6">弹力</tspan></text></g>
<g id="e4c2" class="n"><rect x="1884" y="2144" width="200" height="26" rx="4"/><text x="1890" y="2161">B、只要物体发生形变就会产生弹力</text></g>
<g id="e4c3" class="n"><rect x="1884" y="2197" width="251" height="41" rx="4"/><text x="1890" y="2214">C、任何物体的弹性都有一定的限度，因而弹<tspan x="1890" dy="15.6">力不可能无限大</tspan></text></g>
<g id="e4c4" class="n"><rect x="1884" y="2266" width="225" height="26" rx="4"/><text x="1890" y="2283">D、弹力的大小只与物体形变的程度有关</text></g>
<g id="e4d" class="n"><rect x="1673" y="2327" width="163" height="26" rx="4"/><text x="1679" y="2344">4、下列哪个力不属于弹力( )</text></g>
<g id="e4d1" class="n"><rect x="1859" y="2319" width="252" height="41" rx="4"/><text x="1865" y="2336">A、绳子对重物的拉力 B、万有引力 C、地面<tspan x="1865" dy="15.6">对人的支持力 D、人对墙的推力</tspan></text></g>
<g id="e4e" class="n"><rect x="1673" y="2388" width="253" height="57" rx="4"/><text x="1679" y="2405">5、两个同学同时用4.2N的力，向两边拉弹簧<tspan x="1679" dy="15.6">测力计的挂钩和提纽，此时弹簧测力计显示的</tspan><tspan x="1679" dy="15.6">示数是 。</tspan></text></g>
<g id="e5" class="n"><rect x="1558" y="2472" width="91" height="26" rx="4"/><text x="1564" y="2489">(六)布置作业:</text></g>
<g id="d6" class="n"><rect x="1453" y="2578" width="95" height="26" rx="4"/><text x="1459" y="2595">六、课后反思:</text></g>
<g id="d6a" class="n"><rect x="1570" y="2526" width="103" height="26" rx="4"/><text x="1576" y="2543">1、成功的地方:</text></g>
<g id="d6b" class="n"><rect x="1570" y="2578" width="103" height="26" rx="4"/><text x="1576" y="2595">2、不足的地方:</text></g>
<g id="d6c" class="n"><rect x="1570" y="2632" width="90" height="26" rx="4"/><text x="1576" y="2649">3、改进措施:</text></g>
<g id="d6c1" class="n"><rect x="1683" y="2632" width="97" height="26" rx="4"/><text x="1689" y="2649">附：板书设计:</text></g>
<g id="d7" class="n"><rect x="1453" y="2747" width="70" height="26" rx="4"/><text x="1459" y="2764">一、弹力:</text></g>
<g id="d7a" class="n"><rect x="1547" y="2686" width="89" height="26" rx="4"/><text x="1553" y="2703">1、弹性和塑性</text></g>
<g id="d7b" class="n"><rect x="1547" y="2740" width="251" height="41" rx="4"/><text x="1553" y="2757">2、弹力：物体由于发生弹性形变而产生的力<tspan x="1553" dy="15.6">。</tspan></text></g>
<g id="d7c" class="n"><rect x="1547" y="2809" width="77" height="26" rx="4"/><text x="1553" y="2826">3、弹性限度</text></g>
<g id="d8" class="n"><rect x="1453" y="2901" width="105" height="26" rx="4"/><text x="1459" y="2918">二、弹簧测力计:</text></g>
<g id="d8a" class="n"><rect x="1582" y="2863" width="252" height="41" rx="4"/><text x="1588" y="2880">1、测量原理：弹簧受到的拉力越大，弹簧的<tspan x="1588" dy="15.6">伸长就越长。</tspan></text></g>
<g id="d8b" class="n"><rect x="1582" y="2931" width="203" height="26" rx="4"/><text x="1588" y="2948">2、使用方法：(1)认清量程、分度值</text></g>
<g id="d8b1" class="n"><rect x="1809" y="2931" width="146" height="26" rx="4"/><text x="1815" y="2948">(2)检查指针是否指在零点</text></g>

<g id="f1" class="n"><rect x="1453" y="2985" width="163" height="26" rx="4"/><text x="1459" y="3002">【课题】：欧姆定律(一课时)</text></g>
<g id="f2" class="n"><rect x="1453" y="3038" width="252" height="197" rx="4"/><text x="1459" y="3055">【教材分析】：本节教材内容涉及两个问题。<tspan x="1459" dy="15.6">一是欧姆定律，二是导体的伏安特性曲线。关</tspan><tspan x="1459" dy="15.6">于欧姆定律，教科书先用演示实验探究导体中</tspan><tspan x="1459" dy="15.6">电流与电压的关系，通过U-I图像处理的方法</tspan><tspan x="1459" dy="15.6">得到电流与电压的正比关系，由斜率反映了导</tspan><tspan x="1459" dy="15.6">体对电流的阻碍作用，然后定义电阻。在此基</tspan><tspan x="1459" dy="15.6">础上，通过对因果关系、适用条件的分析等，</tspan><tspan x="1459" dy="15.6">得到欧姆定律的公式及表述。这样安排，在实</tspan><tspan x="1459" dy="15.6">验电路、数据处理、研究思路等方面都较初中</tspan><tspan x="1459" dy="15.6">有很大提高，也更家科学。对导体伏安特性曲</tspan><tspan x="1459" dy="15.6">线的研究，尤其是测绘小灯泡伏安特性曲线的</tspan><tspan x="1459" dy="15.6">实验，使学生对欧姆定律的认识更加深化。</tspan></text></g>
<g id="f3" class="n"><rect x="1453" y="3262" width="252" height="104" rx="4"/><text x="1459" y="3279">【学生分析】：在初中学生已经学习了欧姆定<tspan x="1459" dy="15.6">律，对欧姆定律已有一定的认识，本节课要让</tspan><tspan x="1459" dy="15.6">学生对欧姆定律有一个更多、更深层次的认识</tspan><tspan x="1459" dy="15.6">，学生的动手能力不强，在演示实验部分和理</tspan><tspan x="1459" dy="15.6">论讲解部分要加强师生的互动性，调动学生的</tspan><tspan x="1459" dy="15.6">积极性。</tspan></text></g>
<g id="f4" class="n"><rect x="1453" y="3653" width="94" height="26" rx="4"/><text x="1459" y="3670">【教学目标】:</text></g>
<g id="g1" class="n"><rect x="1570" y="3478" width="105" height="26" rx="4"/><text x="1576" y="3495">(一)、知识与技能</text></g>
<g id="g1a" class="n"><rect x="1697" y="3392" width="253" height="41" rx="4"/><text x="1703" y="3409">1、进一步体会用比值定义物理量的方法，知<tspan x="1703" dy="15.6">道什么是电阻以及电阻的单位</tspan></text></g>
<g id="g1b" class="n"><rect x="1697" y="3463" width="253" height="41" rx="4"/><text x="1703" y="3480">2、理解并掌握欧姆定律，并能用来解决有关<tspan x="1703" dy="15.6">电路的问题。</tspan></text></g>
<g id="g1c" class="n"><rect x="1697" y="3532" width="253" height="72" rx="4"/><text x="1703" y="3549">3、通过测绘小灯泡伏安特性曲线的实验，掌<tspan x="1703" dy="15.6">握和用分压电路改变电压的基本技能知道伏</tspan><tspan x="1703" dy="15.6">安特性曲线，知道线性原件和非线性原件，学</tspan><tspan x="1703" dy="15.6">会一般原件伏安特性曲线的测绘方法。</tspan></text></g>
<g id="g2" class="n"><rect x="1570" y="3674" width="105" height="26" rx="4"/><text x="1576" y="3691">(二)、过程与方法</text></g>
<g id="g2a" class="n"><rect x="1697" y="3632" width="253" height="41" rx="4"/><text x="1703" y="3649">1、通过演示实验知道电流的大小的决定因素<tspan x="1703" dy="15.6">，培养学生的实验观察能力。</tspan></text></g>
<g id="g2b" class="n"><rect x="1697" y="3701" width="253" height="41" rx="4"/><text x="1703" y="3718">2、运用数字图像法处理，培养学生用数字进<tspan x="1703" dy="15.6">行逻辑推理能力。</tspan></text></g>
<g id="g3" class="n"><rect x="1570" y="3828" width="151" height="26" rx="4"/><text x="1576" y="3845">(三)、情感、态度和价值观</text></g>
<g id="g3a" class="n"><rect x="1746" y="3770" width="253" height="57" rx="4"/><text x="1752" y="3787">1、通过介绍欧姆的生平，以及&quot;欧姆定律&quot;的<tspan x="1752" dy="15.6">建立，激发学生的创新意识，培养学生在逆境</tspan><tspan x="1752" dy="15.6">中战胜困难的坚强性格。</tspan></text></g>
<g id="g3b" class="n"><rect x="1746" y="3854" width="253" height="57" rx="4"/><text x="1752" y="3871">2、培养学生善于动手、勤于动脑以及规范操<tspan x="1752" dy="15.6">作的良好实验素质，培养学生仔细观察认真分</tspan><tspan x="1752" dy="15.6">析的科学态度。</tspan></text></g>
<g id="f5" class="n"><rect x="1453" y="4038" width="117" height="26" rx="4"/><text x="1459" y="4055">【教学重点难点】:</text></g>
<g id="h1" class="n"><rect x="1594" y="3938" width="252" height="41" rx="4"/><text x="1600" y="3955">重点：1、欧姆定律的内容、表达式及适用条<tspan x="1600" dy="15.6">件。</tspan></text></g>
<g id="h2" class="n"><rect x="1594" y="4008" width="224" height="26" rx="4"/><text x="1600" y="4025">2、会用姆定律分析解决一些实际问题。</text></g>
<g id="h3" class="n"><rect x="1594" y="4069" width="248" height="26" rx="4"/><text x="1600" y="4086">3、会用试验方法测绘导体的伏安特性曲线。</text></g>
<g id="h3a" class="n"><rect x="1865" y="4062" width="253" height="41" rx="4"/><text x="1871" y="4079">难点：1、根据电路图会实物图的连接，或根<tspan x="1871" dy="15.6">据实物图的连接会画路图。</tspan></text></g>
<g id="h4" class="n"><rect x="1594" y="4130" width="200" height="26" rx="4"/><text x="1600" y="4147">2、理解伏安特性曲线的物理意义。</text></g>
<g id="f6" class="n"><rect x="1453" y="4183" width="252" height="72" rx="4"/><text x="1459" y="4200">【教学思路】：再一次向学生展示实验的魅力<tspan x="1459" dy="15.6">，让学生知道物理应属于一门实验科学，在演</tspan><tspan x="1459" dy="15.6">示实验和投影片的帮助下逐步得出欧姆定律以</tspan><tspan x="1459" dy="15.6">及电阻的定义和表达式。</tspan></text></g>

<g id="r1" class="n"><rect x="1506" y="4284" width="156" height="26" rx="4"/><text x="1512" y="4301">★ 高一必修课物理教案范文</text></g>
<g id="r2" class="n"><rect x="1506" y="4337.3" width="143" height="26" rx="4"/><text x="1512" y="4354.3">★ 高一物理教案范文精选</text></g>
<g id="r3" class="n"><rect x="1506" y="4390.6" width="180" height="26" rx="4"/><text x="1512" y="4407.6">★ 高一物理必修课教案大全精选</text></g>
<g id="r4" class="n"><rect x="1506" y="4443.9" width="156" height="26" rx="4"/><text x="1512" y="4460.9">★ 高一必修课物理优秀教案</text></g>
<g id="r5" class="n"><rect x="1506" y="4497.2" width="156" height="26" rx="4"/><text x="1512" y="4514.2">★ 高一必修课物理教案大全</text></g>
<g id="r6" class="n"><rect x="1506" y="4550.5" width="180" height="26" rx="4"/><text x="1512" y="4567.5">★ 高一必修课物理教案范文大全</text></g>
<g id="r7" class="n"><rect x="1506" y="4603.8" width="176" height="26" rx="4"/><text x="1512" y="4620.8">★ 人教版高一物理教学计划5篇</text></g>
<g id="r8" class="n"><rect x="1506" y="4657.1" width="143" height="26" rx="4"/><text x="1512" y="4674.1">★ 高中物理教案设计范文</text></g>
<g id="r9" class="n"><rect x="1506" y="4710.4" width="204" height="26" rx="4"/><text x="1512" y="4727.4">★ 2021高一物理上学期教学计划5篇</text></g>
<g id="r10" class="n"><rect x="1506" y="4763.7" width="200" height="26" rx="4"/><text x="1512" y="4780.7">★ 新课标高中物理学科教学设计5篇</text></g>

<g id="watermarks">
<text class="wm" transform="translate(630 545) rotate(-32)">树图 shutu.cn</text>
<text class="wm" transform="translate(630 1555) rotate(-32)">树图 shutu.cn</text>
<text class="wm" transform="translate(630 2545) rotate(-32)">树图 shutu.cn</text>
<text class="wm" transform="translate(630 3570) rotate(-32)">树图 shutu.cn</text>
<text class="wm" transform="translate(630 4555) rotate(-32)">树图 shutu.cn</text>
<text class="wm" transform="translate(1928 550) rotate(-32)">树图 shutu.cn</text>
<text class="wm" transform="translate(1928 1550) rotate(-32)">树图 shutu.cn</text>
<text class="wm" transform="translate(1928 2550) rotate(-32)">树图 shutu.cn</text>
<text class="wm" transform="translate(1928 3540) rotate(-32)">树图 shutu.cn</text>
<text class="wm" transform="translate(1928 4550) rotate(-32)">树图 shutu.cn</text>
</g>
</g>
</svg>
